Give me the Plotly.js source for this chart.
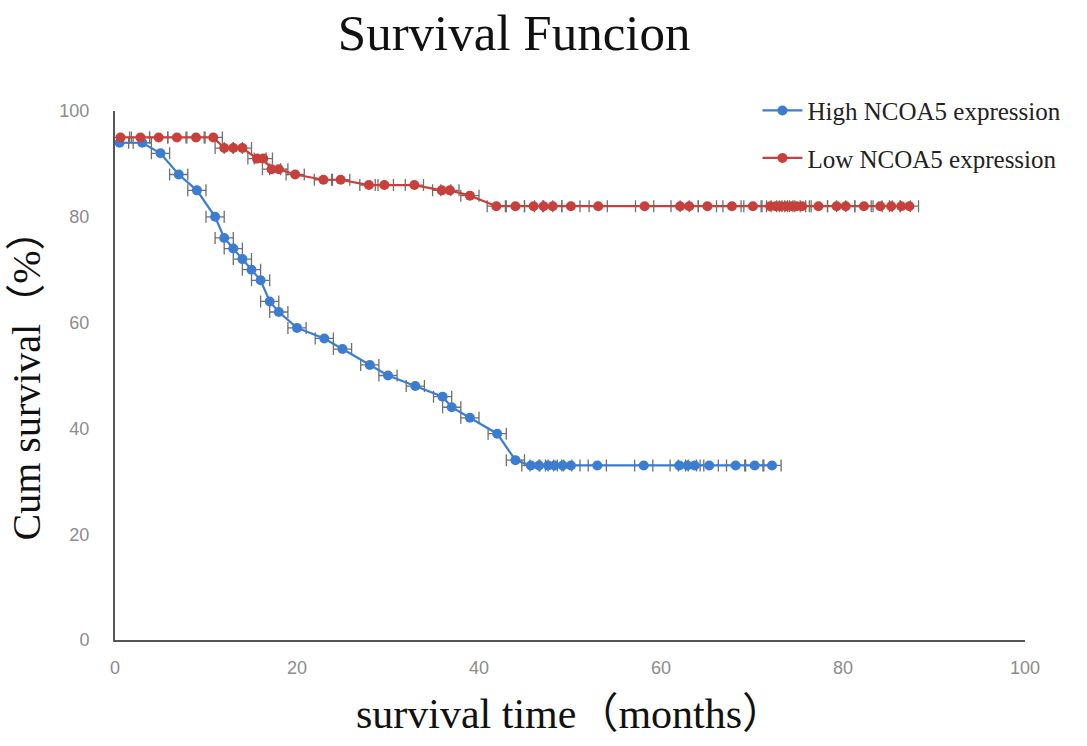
<!DOCTYPE html>
<html>
<head>
<meta charset="utf-8">
<script src="https://cdn.plot.ly/plotly-3.0.1.min.js"></script>
<style>
  html, body { margin: 0; padding: 0; background: #fff; }
  #chart { width: 1087px; height: 746px; }
</style>
</head>
<body>
<div id="chart"></div>
<script>
// Survival curves (months, cumulative survival %)
var highMonths = [0.5, 3, 5, 7, 9, 11, 12, 13, 14, 15, 16, 17, 18, 20, 23, 25, 28, 30, 33, 36, 37, 39, 42, 44,
    45.7, 46.6, 47.6, 48.3, 49.2, 50.1, 53, 58.1, 62, 62.9, 63.7, 65.3, 68.2, 70.3, 72.2];
var highSurvival = [94, 94, 92, 88, 85, 80, 76, 74, 72, 70, 68, 64, 62, 59, 57, 55, 52, 50, 48, 46, 44, 42, 39, 34,
    33, 33, 33, 33, 33, 33, 33, 33, 33, 33, 33, 33, 33, 33, 33];

var lowMonths = [0.6, 2.8, 4.8, 6.8, 8.9, 10.8, 12, 13, 14, 15.6, 16.3, 17.2, 18, 19.8, 22.9, 24.8, 27.9, 29.6, 32.9,
    35.9, 36.8, 39, 41.9, 44, 46, 47.1, 48.1, 50.1, 53.1, 58.2, 62.1, 63.1, 65.1, 67.8, 70.1,
    72, 72.6, 73.1, 73.7, 74.3, 74.9, 75.5, 77.3, 79.3, 80.3, 82.3, 84.1, 85.3, 86.4, 87.3];
var lowSurvival = [95, 95, 95, 95, 95, 95, 93, 93, 93, 91, 91, 89, 89, 88, 87, 87, 86, 86, 86,
    85, 85, 84, 82, 82, 82, 82, 82, 82, 82, 82, 82, 82, 82, 82, 82,
    82, 82, 82, 82, 82, 82, 82, 82, 82, 82, 82, 82, 82, 82, 82];

var xTicks = [0, 20, 40, 60, 80, 100];
var yTicks = [0, 20, 40, 60, 80, 100];

var serif = '"Liberation Serif", "Times New Roman", "Noto Sans CJK SC", serif';
var tickFont = { family: '"Liberation Sans", Arial, sans-serif', size: 18, color: '#8c8c8c' };

function makeSeries(name, x, y, color) {
    return {
        name: name,
        legendgroup: name,
        x: x,
        y: y,
        type: 'scatter',
        mode: 'lines+markers',
        line: { color: color, width: 2.2 },
        marker: { color: color, size: 10, symbol: 'circle' },
        error_x: { type: 'constant', value: 1, color: '#6f6f6f', thickness: 1.3, width: 6 },
    };
}

var traces = [
    makeSeries('High NCOA5 expression', highMonths, highSurvival, '#3b7dd0'),
    makeSeries('Low NCOA5 expression', lowMonths, lowSurvival, '#c8403b')
];

var layout = {
    width: 1087,
    height: 746,
    margin: { l: 115, r: 62, t: 111, b: 106 },
    paper_bgcolor: '#ffffff',
    plot_bgcolor: '#ffffff',
    showlegend: true,
    title: {
        text: 'Survival Funcion',
        font: { family: serif, size: 51, color: '#111' },
        x: 0.473,
        xanchor: 'center',
        y: 0.957,
        yanchor: 'middle'
    },
    xaxis: {
        range: [0, 100],
        tickvals: xTicks,
        ticktext: xTicks.map(String),
        showgrid: false,
        zeroline: false,
        showline: true,
        linecolor: '#555',
        linewidth: 2,
        ticks: '',
        tickfont: tickFont,
        ticklabelstandoff: 10,
        title: {
            text: 'survival time（months）',
            font: { family: serif, size: 42, color: '#111' },
            standoff: 22
        }
    },
    yaxis: {
        range: [0, 100],
        tickvals: yTicks,
        ticktext: yTicks.map(String),
        showgrid: false,
        zeroline: false,
        showline: true,
        linecolor: '#555',
        linewidth: 2,
        ticks: '',
        tickfont: tickFont,
        ticklabelstandoff: 20,
        title: {
            text: 'Cum survival（%）',
            font: { family: serif, size: 40, color: '#111' },
            standoff: 6
        }
    },
    legend: {
        x: 0.706,
        xanchor: 'left',
        y: 1.044,
        yanchor: 'top',
        bgcolor: 'rgba(0,0,0,0)',
        font: { family: serif, size: 25, color: '#222' },
        tracegroupgap: 12,
        itemwidth: 40
    }
};

Plotly.newPlot('chart', traces, layout, { displayModeBar: false, responsive: false });
</script>
</body>
</html>
